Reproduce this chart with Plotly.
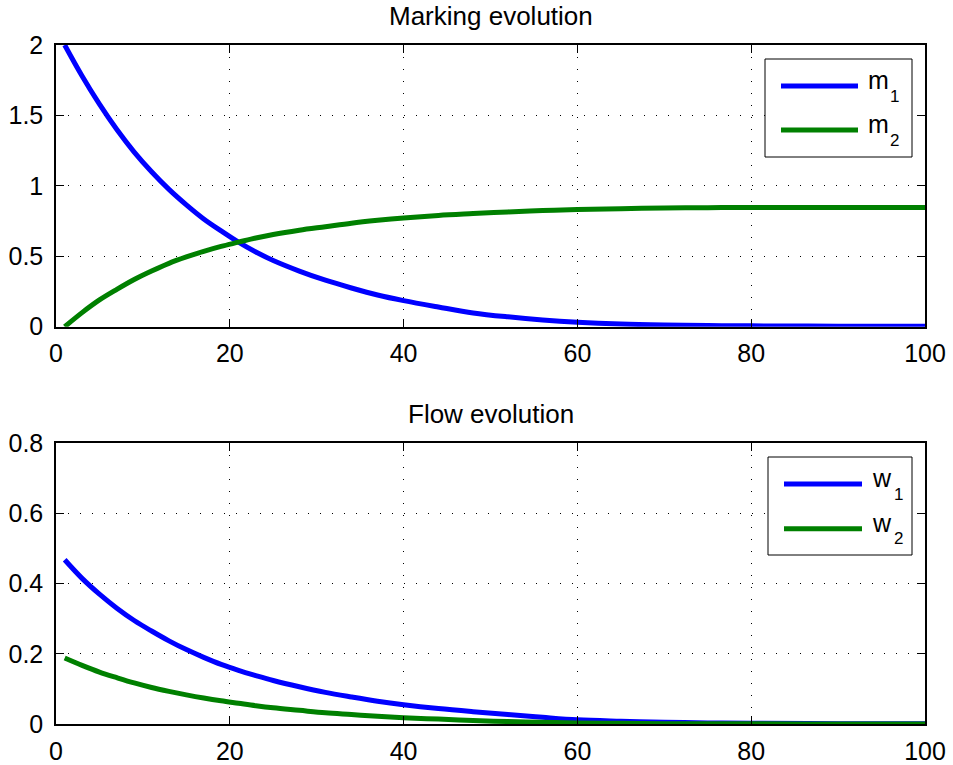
import plotly.graph_objects as go

# ---- data ----
t = [1, 3, 5, 7, 9, 11, 13, 15, 17, 19, 21, 23, 25, 28, 31, 34, 37, 40,
     44, 48, 52, 56, 60, 65, 70, 75, 80, 90, 100]

m1 = [2.00, 1.78, 1.58, 1.40, 1.24, 1.10, 0.975, 0.865, 0.765, 0.68, 0.60, 0.53,
      0.47, 0.395, 0.33, 0.275, 0.225, 0.185, 0.14, 0.098, 0.07, 0.048, 0.032,
      0.019, 0.012, 0.008, 0.006, 0.004, 0.003]
m2 = [0.0, 0.10, 0.19, 0.265, 0.335, 0.395, 0.45, 0.495, 0.535, 0.57, 0.60, 0.63,
      0.655, 0.685, 0.71, 0.735, 0.755, 0.772, 0.79, 0.803, 0.815, 0.825, 0.832,
      0.838, 0.842, 0.845, 0.846, 0.847, 0.847]
w1 = [0.468, 0.415, 0.37, 0.33, 0.295, 0.265, 0.237, 0.212, 0.19, 0.17, 0.153,
      0.138, 0.124, 0.106, 0.09, 0.077, 0.065, 0.055, 0.044, 0.035, 0.027, 0.019,
      0.012, 0.008, 0.005, 0.003, 0.002, 0.001, 0.001]
w2 = [0.188, 0.167, 0.148, 0.132, 0.117, 0.104, 0.093, 0.083, 0.074, 0.066, 0.059,
      0.052, 0.046, 0.039, 0.032, 0.027, 0.022, 0.018, 0.014, 0.010, 0.007, 0.005,
      0.003, 0.002, 0.001, 0.001, 0.0005, 0.0, 0.0]

titles = ["Marking evolution", "Flow evolution"]
top_names = [("m", "1"), ("m", "2")]
bottom_names = [("w", "1"), ("w", "2")]

BLUE = "#0000FF"
GREEN = "#008000"
FONT = "Liberation Sans, Arial, sans-serif"
W, H = 953, 765
ML, MR, MT, MB = 56, 28, 45, 41
PW = W - ML - MR
PH = H - MT - MB
FS = 25
TFS = 26
SUBFS = 17


def px(x):
    return (x - ML) / PW


def py(y):
    return (H - MB - y) / PH


fig = go.Figure()
lw = 5
fig.add_trace(go.Scatter(x=t, y=m1, mode="lines", line=dict(color=BLUE, width=lw, shape="spline"),
                         xaxis="x", yaxis="y", showlegend=False))
fig.add_trace(go.Scatter(x=t, y=m2, mode="lines", line=dict(color=GREEN, width=lw, shape="spline"),
                         xaxis="x", yaxis="y", showlegend=False))
fig.add_trace(go.Scatter(x=t, y=w1, mode="lines", line=dict(color=BLUE, width=lw, shape="spline"),
                         xaxis="x2", yaxis="y2", showlegend=False))
fig.add_trace(go.Scatter(x=t, y=w2, mode="lines", line=dict(color=GREEN, width=lw, shape="spline"),
                         xaxis="x2", yaxis="y2", showlegend=False))

axis_common = dict(
    showline=True, linecolor="black", linewidth=1.5, mirror="ticks",
    ticks="inside", ticklen=8, tickwidth=1, tickcolor="black",
    showgrid=True, gridcolor="black", gridwidth=1, griddash="1px,11px",
    zeroline=False, automargin=False,
    tickfont=dict(family=FONT, size=FS, color="black"),
)

top_dom = [py(326.7), 1.0]
bot_dom = [0.0, py(443.3)]

fig.update_layout(
    width=W, height=H,
    margin=dict(l=ML, r=MR, t=MT, b=MB),
    paper_bgcolor="white", plot_bgcolor="white",
    showlegend=False,
    xaxis=dict(domain=[0, 1], range=[0, 100], dtick=20, anchor="y", ticklabelstandoff=4, **axis_common),
    yaxis=dict(domain=top_dom, range=[0, 2], dtick=0.5, anchor="x", ticklabelstandoff=6, **axis_common),
    xaxis2=dict(domain=[0, 1], range=[0, 100], dtick=20, anchor="y2", ticklabelstandoff=4, **axis_common),
    yaxis2=dict(domain=bot_dom, range=[0, 0.8], dtick=0.2, anchor="x2", ticklabelstandoff=6, **axis_common),
)

shapes = []
annotations = []


def text_at(txt, x, baseline, size, anchor="left"):
    # place text so that its baseline sits at the given pixel row
    annotations.append(dict(text=txt, x=px(x), xref="paper", y=py(baseline - 0.35 * size), yref="paper",
                            xanchor=anchor, yanchor="middle", showarrow=False,
                            font=dict(family=FONT, size=size, color="black")))


# titles
text_at(titles[0], ML + PW / 2, 25, TFS, "center")
text_at(titles[1], ML + PW / 2, 423.3, TFS, "center")


def add_legend(box, line_x, rows, text_x, names):
    x0, y0, x1, y1 = box
    shapes.append(dict(type="rect", xref="paper", yref="paper",
                       x0=px(x0), x1=px(x1), y0=py(y1), y1=py(y0),
                       line=dict(color="black", width=1), fillcolor="white", layer="above"))
    for (yy, col, (base, sub)) in zip(rows, [BLUE, GREEN], names):
        shapes.append(dict(type="line", xref="paper", yref="paper",
                           x0=px(line_x[0]), x1=px(line_x[1]), y0=py(yy), y1=py(yy),
                           line=dict(color=col, width=lw), layer="above"))
        text_at(base, text_x, yy + 3, FS)
        text_at(sub, text_x + 22, yy + 16, SUBFS)


add_legend((765, 59, 912, 157), (781, 858), [86, 130], 866, top_names)
add_legend((768, 457, 912, 555), (784, 862), [484, 528.7], 870, bottom_names)

fig.update_layout(shapes=shapes, annotations=annotations)

fig.write_html("out.html", config={"displayModeBar": False},
               post_script="document.body.style.margin='0';document.body.style.padding='0';")
